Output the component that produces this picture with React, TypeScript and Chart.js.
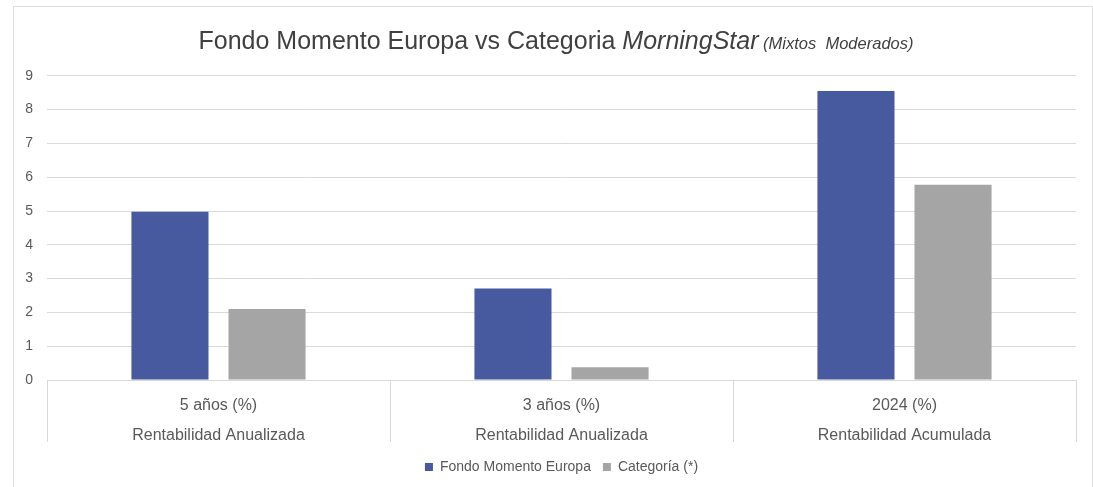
import { useEffect, useRef } from "react";
import { Chart, registerables } from "chart.js";

Chart.register(...registerables);

const categories: string[][] = [
  ["5 años (%)", "Rentabilidad Anualizada"],
  ["3 años (%)", "Rentabilidad Anualizada"],
  ["2024 (%)", "Rentabilidad Acumulada"],
];
const fondoValues = [4.98, 2.71, 8.55];
const categoriaValues = [2.1, 0.38, 5.78];
const seriesNames = ["Fondo Momento Europa", "Categoría (*)"];
const yMin = 0;
const yMax = 9;
const yStep = 1;
const titleMain = "Fondo Momento Europa vs Categoria ";
const titleItalic = "MorningStar";
const titleSmall = " (Mixtos  Moderados)";

const FONT = "'Liberation Sans', Arial, sans-serif";
const GRID = "#D9D9D9";
const TEXT = "#595959";

const titlePlugin = {
  id: "mixedTitle",
  afterDraw(chart: any) {
    const ctx = chart.ctx;
    ctx.save();
    ctx.fillStyle = "#404040";
    ctx.textBaseline = "alphabetic";
    ctx.textAlign = "left";
    const f1 = `25px ${FONT}`;
    const f2 = `italic 25px ${FONT}`;
    const f3 = `italic 16.5px ${FONT}`;
    ctx.font = f1;
    const w1 = ctx.measureText(titleMain).width;
    ctx.font = f2;
    const w2 = ctx.measureText(titleItalic).width;
    ctx.font = f3;
    const w3 = ctx.measureText(titleSmall).width;
    const total = w1 + w2 + w3;
    let x = 543 - total / 2;
    const y = 43;
    ctx.font = f1;
    ctx.fillText(titleMain, x, y);
    x += w1;
    ctx.font = f2;
    ctx.fillText(titleItalic, x, y);
    x += w2;
    ctx.font = f3;
    ctx.fillText(titleSmall, x, y);
    ctx.restore();
  },
};

const separatorPlugin = {
  id: "catSeparators",
  afterDraw(chart: any) {
    const ctx = chart.ctx;
    const xs = chart.scales.x;
    const n = categories.length;
    const bottom = chart.chartArea.bottom;
    ctx.save();
    ctx.strokeStyle = GRID;
    ctx.lineWidth = 1;
    ctx.beginPath();
    for (let i = 0; i <= n; i++) {
      const px = Math.round(xs.left + (i * xs.width) / n) + 0.5;
      ctx.moveTo(px, bottom);
      ctx.lineTo(px, bottom + 62);
    }
    ctx.stroke();
    ctx.restore();
  },
};

export default function App() {
  const ref = useRef<HTMLCanvasElement>(null);

  useEffect(() => {
    if (!ref.current) return;
    const chart = new Chart(ref.current, {
      type: "bar",
      data: {
        labels: categories,
        datasets: [
          {
            label: seriesNames[0],
            data: fondoValues,
            backgroundColor: "#485A9F",
            categoryPercentage: 0.566,
            barPercentage: 0.794,
          },
          {
            label: seriesNames[1],
            data: categoriaValues,
            backgroundColor: "#A5A5A5",
            categoryPercentage: 0.566,
            barPercentage: 0.794,
          },
        ],
      },
      options: {
        animation: false,
        responsive: false,
        maintainAspectRatio: false,
        layout: { padding: { top: 69.8, left: 0, right: 17, bottom: 9 } },
        plugins: {
          title: { display: false },
          tooltip: { enabled: false },
          legend: {
            position: "bottom",
            fullSize: false,
            maxHeight: 30,
            labels: {
              font: { family: FONT, size: 14 },
              color: TEXT,
              boxWidth: 8,
              boxHeight: 8,
              padding: 12,
            },
          },
        },
        scales: {
          x: {
            grid: { display: false },
            border: { display: false },
            ticks: {
              font: { family: FONT, size: 16, lineHeight: 1.875 },
              color: TEXT,
              padding: 3,
              maxRotation: 0,
              autoSkip: false,
            },
            afterFit(scale: any) {
              scale.height = 68;
            },
          },
          y: {
            min: yMin,
            max: yMax,
            ticks: {
              stepSize: yStep,
              font: { family: FONT, size: 14 },
              color: TEXT,
              padding: 14,
            },
            grid: { color: GRID, drawTicks: false, lineWidth: 1 },
            border: { display: false },
            afterFit(scale: any) {
              scale.width = 34;
            },
          },
        },
      },
      plugins: [titlePlugin, separatorPlugin],
    });
    return () => chart.destroy();
  }, []);

  return (
    <div style={{ position: "fixed", left: 0, top: 0, width: 1093, height: 487, background: "#fff", overflow: "hidden" }}>
      <div
        style={{
          position: "absolute",
          left: 13,
          top: 6,
          width: 1080,
          height: 500,
          border: "1px solid #DEDEDE",
          boxSizing: "border-box",
        }}
      />
      <canvas
        ref={ref}
        width={1080}
        height={481}
        style={{ position: "absolute", left: 13, top: 6, width: 1080, height: 481 }}
      />
    </div>
  );
}
